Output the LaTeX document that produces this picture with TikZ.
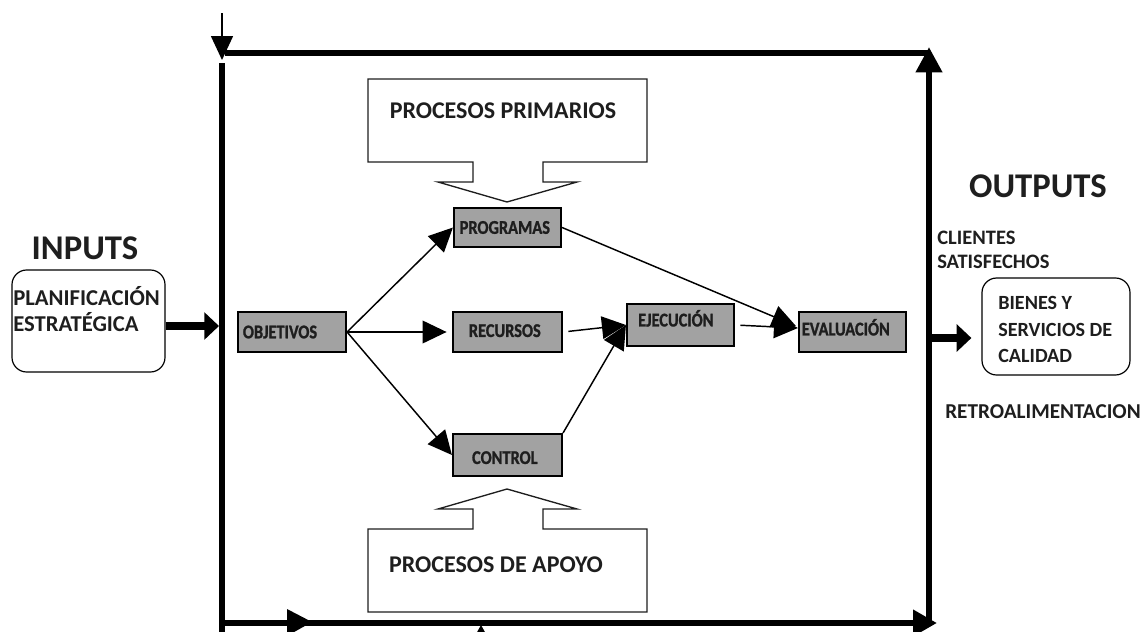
\documentclass[tikz,border=0pt]{standalone}
\usepackage{fontspec}
\setmainfont{Carlito}
\newfontfamily\boxfont[FakeStretch=0.84, FakeBold=1.2]{Carlito Bold}
\usetikzlibrary{arrows.meta,calc}
\definecolor{boxgray}{HTML}{A2A2A2}
\definecolor{ink}{HTML}{1E1E1E}
\begin{document}
\begin{tikzpicture}[x=0.75pt,y=-0.75pt,
  gbox/.style={draw=black, line width=1.6pt, fill=boxgray, inner sep=0pt},
  gtext/.style={font=\boxfont\fontsize{14.6}{16}\selectfont, text=ink, inner sep=0pt},
  flow/.style={line width=1.1pt, -{Triangle[length=18pt,width=17pt]}},
  frameline/.style={line width=4.5pt},
  fat/.style={line width=6.5pt, -{Triangle[length=11pt,width=20pt]}},
  rbox/.style={draw=black, line width=0.9pt, rounded corners=11pt},
  callout/.style={draw=ink, line width=1pt, fill=white},
  lbl/.style={text=ink, inner sep=0pt, align=left},
]
\useasboundingbox (0,0) rectangle (1143,632);

% ---- system frame ----
\draw[line width=1.2pt, -{Triangle[length=18pt,width=16.5pt]}] (222,13) -- (222,60);
\draw[frameline] (225,53) -- (929,53);
\draw[frameline] (222,63) -- (222,632);
\draw[frameline, -{Triangle[length=18pt,width=19pt]}] (222,623) -- (937,623);
\draw[frameline, -{Triangle[length=19pt,width=19pt]}] (929,623) -- (929,47);
\fill (287,609) -- (312,622) -- (287,636) -- cycle;
\fill (476,634) -- (481,625) -- (486,634) -- cycle;
\coordinate (fin) at (219,326);
\coordinate (fout) at (931,338);

% ---- process callouts ----
\draw[callout] (368,79) -- (647,79) -- (647,162) -- (543,162) -- (543,182) -- (577,182)
  -- (507,202) -- (438,182) -- (473,182) -- (473,162) -- (368,162) -- cycle;
\node[lbl, font=\bfseries\fontsize{18}{22}\selectfont] (pp) at (503,111) {PROCESOS PRIMARIOS};

\draw[callout] (368,612) -- (368,529) -- (473,529) -- (473,509) -- (438,509) -- (507,489)
  -- (577,509) -- (543,509) -- (543,529) -- (647,529) -- (647,612) -- cycle;
\node[lbl, font=\bfseries\fontsize{18}{22}\selectfont] (pa) at (496,565) {PROCESOS DE APOYO};

% ---- process boxes ----
\node[gbox, minimum width=108*0.75pt, minimum height=40*0.75pt,
  label={[gtext, xshift=-9pt]center:OBJETIVOS}] (obj) at (292,332) {};
\node[gbox, minimum width=107*0.75pt, minimum height=39*0.75pt,
  label={[gtext, xshift=-2pt]center:PROGRAMAS}] (prog) at (507.5,227.5) {};
\node[gbox, minimum width=109*0.75pt, minimum height=40*0.75pt,
  label={[gtext, xshift=-2pt, yshift=1pt]center:RECURSOS}] (rec) at (507.5,332) {};
\node[gbox, minimum width=109*0.75pt, minimum height=42*0.75pt,
  label={[gtext, xshift=-2pt, yshift=-2pt]center:CONTROL}] (ctrl) at (507.5,455) {};
\node[gbox, minimum width=107*0.75pt, minimum height=42*0.75pt,
  label={[gtext, xshift=-3.5pt, yshift=5pt]center:EJECUCIÓN}] (eje) at (680.5,325) {};
\node[gbox, minimum width=107*0.75pt, minimum height=40*0.75pt,
  label={[gtext, xshift=-5pt, yshift=3.5pt]center:EVALUACIÓN}] (eva) at (852.5,332) {};

% ---- flows ----
\draw[flow] (obj.east) -- (prog.west);
\draw[flow, shorten >=4pt] (obj.east) -- (rec.west);
\draw[flow] (obj.east) -- (ctrl.west);
\draw[flow, shorten <=4pt] (rec.east) -- (eje.west);
\draw[flow] (ctrl.north east) -- (eje.west);
\draw[flow, shorten <=4pt] (eje.east) -- ($(eva.west)+(0,-4)$);
\draw[flow] (prog.east) -- ($(eva.west)+(-2,-6)$);

% ---- inputs ----
\node[lbl, font=\bfseries\fontsize{26}{30}\selectfont] (inp) at (85,248) {INPUTS};
\node[rbox, minimum width=153*0.75pt, minimum height=102*0.75pt] (plan) at (88.5,321) {};
\node[lbl, anchor=west, font=\bfseries\fontsize{17}{19.5}\selectfont] (plantxt) at (13,309)
  {PLANIFICACIÓN\\ESTRATÉGICA};
\draw[fat] ($(plan.east)+(0,5)$) -- (fin);

% ---- outputs ----
\node[lbl, font=\bfseries\fontsize{26}{30}\selectfont] (outp) at (1038,186) {OUTPUTS};
\node[lbl, anchor=west, font=\bfseries\fontsize{15.4}{18}\selectfont] (cli) at (937,250)
  {CLIENTES\\SATISFECHOS};
\node[rbox, minimum width=148*0.75pt, minimum height=97*0.75pt] (bien) at (1056,326.5) {};
\node[lbl, anchor=west, font=\bfseries\fontsize{15.1}{19.9}\selectfont] (bientxt) at (998,329.5)
  {BIENES Y\\SERVICIOS DE\\CALIDAD};
\draw[fat, shorten >=7.5pt] (fout) -- ($(bien.west)+(0,11.5)$);
\node[lbl, anchor=west, font=\bfseries\fontsize{15.9}{18}\selectfont] (retro) at (945,412) {RETROALIMENTACION};
\end{tikzpicture}
\end{document}
